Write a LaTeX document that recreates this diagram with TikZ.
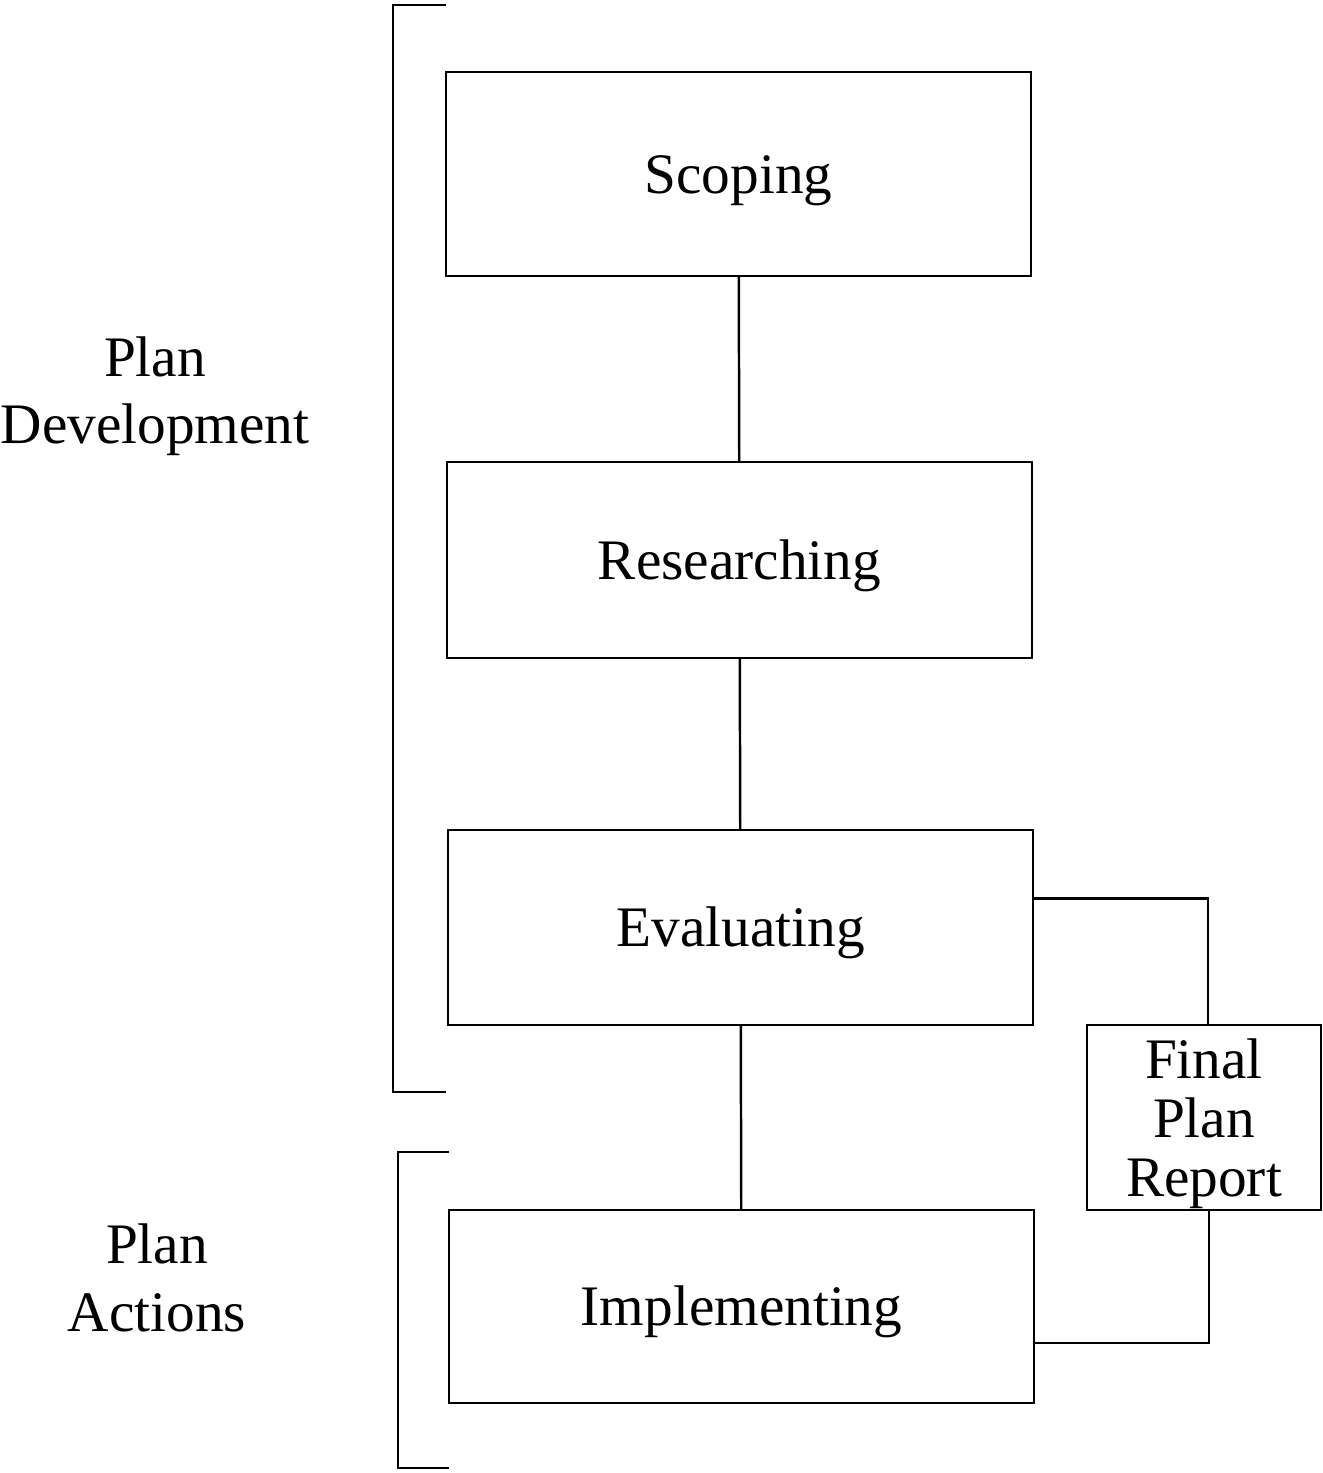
\documentclass[tikz,border=0pt]{standalone}
\usepackage{fontspec}
\setmainfont{Liberation Serif}
\usetikzlibrary{positioning}

\tikzset{
  stage/.style={draw,line width=0.7pt,minimum width=5.85cm,minimum height=1.98cm,text height=11pt,text depth=0pt,font=\fontsize{16.3}{19}\selectfont},
  grouplabel/.style={align=center,font=\fontsize{16.3}{19.2}\selectfont},
}

\begin{document}
\begin{tikzpicture}[line width=0.7pt]
	\useasboundingbox (0,0) rectangle (13.22,-14.73);
	\node[stage,minimum height=2.04cm] at (7.385,-1.74) (scope) {Scoping};
	\node[stage,minimum height=1.96cm] at (7.395,-5.60) (research) {Researching};
	\node[stage,minimum height=1.95cm] at (7.405,-9.275) (eval) {Evaluating};
	\node[stage,minimum height=1.93cm] at (7.415,-13.065) (impl) {Implementing};
	\node[draw,align=center,inner sep=1pt,text depth=0pt,minimum width=2.34cm,minimum height=1.85cm,font=\fontsize{16.3}{16.8}\selectfont] at (12.04,-11.175) (final) {Final\\Plan\\Report};
	\draw (scope) -- (research);
	\draw (research) -- (eval);
	\draw (eval) -- (impl);
	\draw ([yshift=0.29cm]eval.east) -| ([xshift=0.04cm]final.north);
	\draw ([xshift=0.05cm]final.south) |- ([yshift=-0.365cm]impl.east);
	% brackets
	\draw (4.46,-0.05) -- (3.93,-0.05) -- (3.93,-10.92) -- (4.46,-10.92);
	\draw (4.49,-11.52) -- (3.98,-11.52) -- (3.98,-14.68) -- (4.49,-14.68);
	\node[grouplabel] at (1.55,-3.96) (devlabel) {Plan\\Development};
	\node[grouplabel] at (1.57,-12.78) (actlabel) {Plan\\Actions};
  \end{tikzpicture}
\end{document}
